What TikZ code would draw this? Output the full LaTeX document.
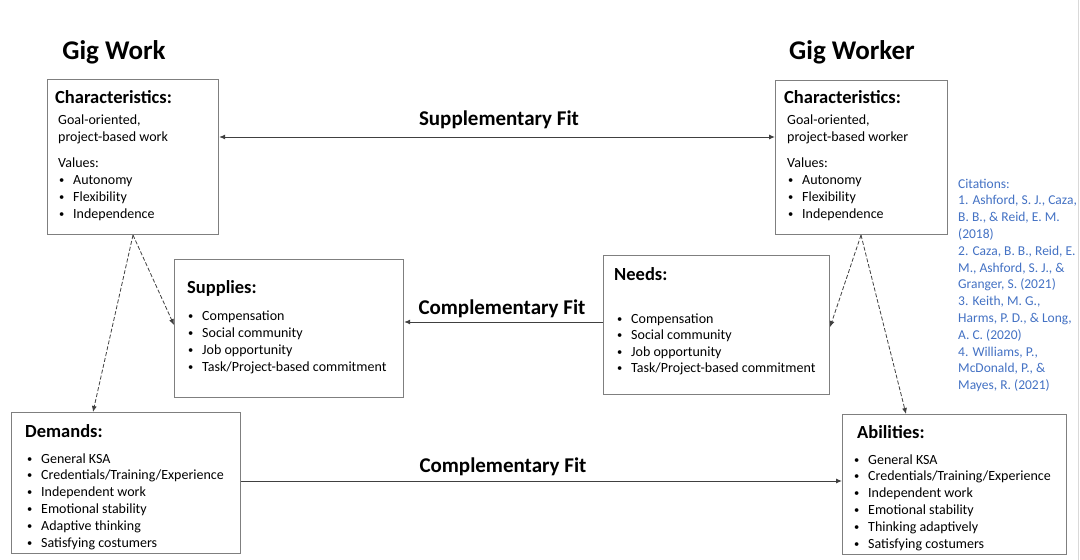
\documentclass[tikz,border=0pt]{standalone}
\usepackage{fontspec}
\setmainfont{Carlito}
\usetikzlibrary{arrows.meta}
\definecolor{boxgray}{HTML}{7F7F7F}
\definecolor{linegray}{HTML}{404040}
\definecolor{citeblue}{HTML}{4472C4}
\definecolor{edgegray}{HTML}{D9D9D9}
\newcommand{\mybul}{\makebox[15pt][l]{\hspace{1pt}\raisebox{0.9pt}{\scalebox{0.75}{\textbullet}}}}
\begin{document}
\begin{tikzpicture}[x=1pt,y=-1pt,
  box/.style={draw=boxgray, line width=1.1pt, fill=white, inner sep=0pt, anchor=north west},
  bigtitle/.style={anchor=base, inner sep=0pt, font=\fontsize{27}{30}\selectfont\bfseries},
  ttl/.style={anchor=base west, inner sep=0pt, font=\fontsize{18.5}{20}\selectfont\bfseries},
  txt/.style={anchor=base west, inner sep=0pt, font=\fontsize{14}{17}\selectfont},
  fitlabel/.style={anchor=base, inner sep=0pt, font=\fontsize{21}{24}\selectfont\bfseries},
  cite/.style={anchor=base west, inner sep=0pt, text=citeblue, font=\fontsize{13.5}{16}\selectfont},
  conn/.style={draw=linegray, line width=1pt, -{Latex[length=6pt,width=5pt]}},
  dconn/.style={draw=linegray, line width=0.8pt, dash pattern=on 4pt off 2pt, -{Latex[length=6pt,width=5pt]}}
]
\useasboundingbox[fill=white] (0,0) rectangle (1080,560);
\draw[edgegray, line width=1pt] (1078,0) -- (1078,560);

% titles
\node[bigtitle] (tgw) at (114,59) {Gig Work};
\node[bigtitle] (tgk) at (852,59) {Gig Worker};

% boxes
\node[box, minimum width=171pt, minimum height=155pt] (lchar) at (47,79) {};
\node[box, minimum width=172pt, minimum height=154pt] (rchar) at (775,80) {};
\node[box, minimum width=229pt, minimum height=138pt] (sup) at (174,259) {};
\node[box, minimum width=226pt, minimum height=139pt] (need) at (603,255) {};
\node[box, minimum width=229pt, minimum height=141pt] (dem) at (11,412) {};
\node[box, minimum width=224pt, minimum height=140pt] (abil) at (842,414) {};

% left characteristics
\node[ttl] (lct) at (55,103) {Characteristics:};
\node[txt] (lc1) at (58,124) {Goal-oriented,};
\node[txt] (lc2) at (58,141) {project-based work};
\node[txt] (lc3) at (58,167) {Values:};
\foreach \t [count=\i from 0] in {Autonomy, Flexibility, Independence}
  \node[txt] (lcv\i) at (58,184+17*\i) {\mybul\t};

% right characteristics
\node[ttl] (rct) at (784,103) {Characteristics:};
\node[txt] (rc1) at (787,124) {Goal-oriented,};
\node[txt] (rc2) at (787,141) {project-based worker};
\node[txt] (rc3) at (787,167) {Values:};
\foreach \t [count=\i from 0] in {Autonomy, Flexibility, Independence}
  \node[txt] (rcv\i) at (787,184+17*\i) {\mybul\t};

% supplies
\node[ttl] (supt) at (187,293) {Supplies:};
\foreach \t [count=\i from 0] in {Compensation, Social community, Job opportunity, Task/Project-based commitment}
  \node[txt] (sup\i) at (187,320+17*\i) {\mybul\t};

% needs
\node[ttl] (needt) at (614,280) {Needs:};
\foreach \t [count=\i from 0] in {Compensation, Social community, Job opportunity, Task/Project-based commitment}
  \node[txt] (need\i) at (616,323+16.5*\i) {\mybul\t};

% demands
\node[ttl] (demt) at (25,437) {Demands:};
\foreach \t [count=\i from 0] in {General KSA, Credentials/Training/Experience, Independent work, Emotional stability, Adaptive thinking, Satisfying costumers}
  \node[txt] (dem\i) at (26,463+16.8*\i) {\mybul\t};

% abilities
\node[ttl] (abilt) at (857,438) {Abilities:};
\foreach \t [count=\i from 0] in {General KSA, Credentials/Training/Experience, Independent work, Emotional stability, Thinking adaptively, Satisfying costumers}
  \node[txt] (abil\i) at (853,464+16.8*\i) {\mybul\t};

% citations
\foreach \t [count=\i from 0] in {{Citations:},{1. Ashford, S. J., Caza,},{B. B., \& Reid, E. M.},{(2018)},{2. Caza, B. B., Reid, E.},{M., Ashford, S. J., \&},{Granger, S. (2021)},{3. Keith, M. G.,},{Harms, P. D., \& Long,},{A. C. (2020)},{4. Williams, P.,},{McDonald, P., \&},{Mayes, R. (2021)}}
  \node[cite] (cit\i) at (958,188+16.8*\i) {\t};

% fit labels
\node[fitlabel] (supfit) at (499,125) {Supplementary Fit};
\node[fitlabel] (compfit1) at (502,314) {Complementary Fit};
\node[fitlabel] (compfit2) at (503,472) {Complementary Fit};

% connector anchors
\coordinate (ya) at (0,137);
\coordinate (yb) at (0,322);
\coordinate (yc) at (0,481);
\coordinate (xl) at (133,0);
\coordinate (xr) at (861,0);
\coordinate (ysup) at (0,325);
\coordinate (yneed) at (0,327);
\coordinate (xdem) at (93,0);
\coordinate (xabil) at (906,0);

\draw[conn, {Latex[length=6pt,width=5pt]}-{Latex[length=6pt,width=5pt]}] (lchar.east |- ya) -- (rchar.west |- ya);
\draw[conn] (need.west |- yb) -- (sup.east |- yb);
\draw[conn] (dem.east |- yc) -- (abil.west |- yc);

\draw[dconn] (lchar.south -| xl) -- (sup.west |- ysup);
\draw[dconn] (lchar.south -| xl) -- (dem.north -| xdem);
\draw[dconn] (rchar.south -| xr) -- (need.east |- yneed);
\draw[dconn] (rchar.south -| xr) -- (abil.north -| xabil);
\end{tikzpicture}
\end{document}
